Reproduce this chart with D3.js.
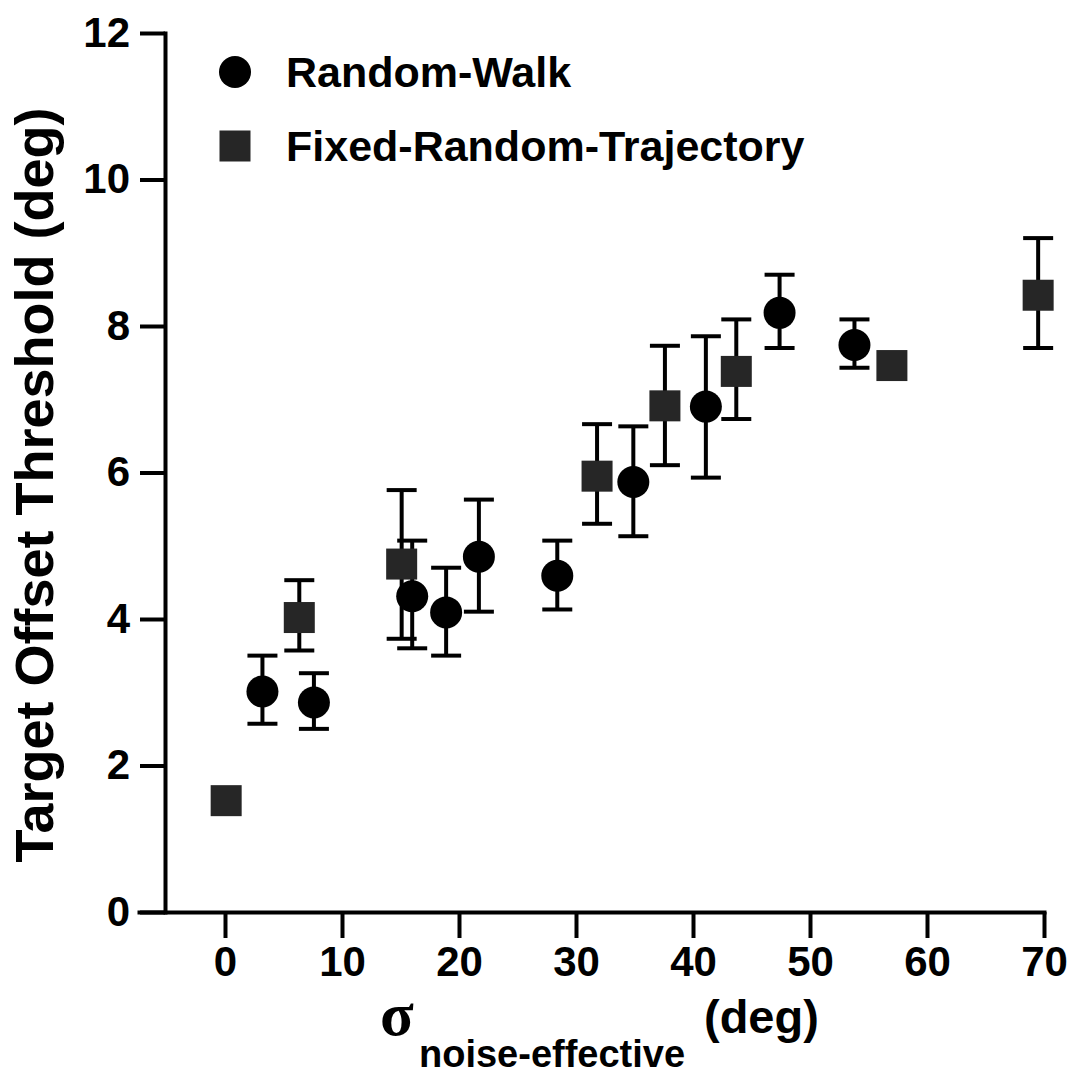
<!DOCTYPE html>
<html>
<head>
<meta charset="utf-8">
<script src="https://cdn.jsdelivr.net/npm/d3@7"></script>
<style>
  html, body { margin: 0; padding: 0; background: #fff; }
  svg { display: block; }
  text { font-family: Arial, "Liberation Sans", Helvetica, sans-serif; font-weight: bold; fill: #000; }
</style>
</head>
<body>
<svg id="chart" width="1073" height="1074"></svg>
<script>
// ---- Data ----
const seriesNames = ["Random-Walk", "Fixed-Random-Trajectory"];

const rwX  = [3.2, 7.6, 16.0, 18.9, 21.7, 28.4, 34.9, 41.1, 47.4, 53.8];
const rwY  = [3.01, 2.86, 4.31, 4.09, 4.85, 4.59, 5.87, 6.90, 8.18, 7.74];
const rwLo = [2.57, 2.50, 3.60, 3.50, 4.10, 4.13, 5.13, 5.93, 7.70, 7.43];
const rwHi = [3.50, 3.26, 5.07, 4.70, 5.63, 5.07, 6.63, 7.86, 8.70, 8.09];

const frtX  = [0.1, 6.35, 15.1, 31.8, 37.6, 43.7, 57.0, 69.5];
const frtY  = [1.52, 4.02, 4.75, 5.95, 6.91, 7.38, 7.46, 8.42];
const frtLo = [1.52, 3.57, 3.73, 5.30, 6.10, 6.73, 7.46, 7.70];
const frtHi = [1.52, 4.53, 5.76, 6.66, 7.73, 8.09, 7.46, 9.20];

const xTicks = [0, 10, 20, 30, 40, 50, 60, 70];
const yTicks = [0, 2, 4, 6, 8, 10, 12];

// ---- Layout ----
const svg = d3.select("#chart");
const yAxisX = 165;
const x = d3.scaleLinear().domain([-7.35, 70]).range([139, 1044]);
const y = d3.scaleLinear().domain([0, 12]).range([912, 33]);

const SW = 4;

// Y axis
const gy = svg.append("g").attr("transform", `translate(${yAxisX},0)`)
  .call(d3.axisLeft(y).tickValues(yTicks).tickSize(25).tickSizeOuter(0).tickPadding(10).tickFormat(d3.format("d")));
gy.selectAll("path, line").attr("stroke", "#000").attr("stroke-width", SW);
gy.selectAll("text").style("font-size", "42px").attr("font-family", null);

// X axis
const gx = svg.append("g").attr("transform", `translate(0,${y(0)})`)
  .call(d3.axisBottom(x).tickValues(xTicks).tickSize(26).tickSizeOuter(0).tickPadding(8).tickFormat(d3.format("d")));
gx.selectAll("path, line").attr("stroke", "#000").attr("stroke-width", SW);
gx.selectAll("text").style("font-size", "42px").attr("font-family", null);
svg.selectAll(".domain").attr("stroke-linecap", "square");

// Error bars
function errBars(xs, ys, lo, hi) {
  const g = svg.append("g");
  xs.forEach((xv, i) => {
    if (hi[i] - lo[i] < 0.01) return;
    const cx = x(xv);
    g.append("line").attr("x1", cx).attr("x2", cx).attr("y1", y(lo[i])).attr("y2", y(hi[i]))
      .attr("stroke", "#000").attr("stroke-width", SW);
    [lo[i], hi[i]].forEach(v => {
      g.append("line").attr("x1", cx - 15).attr("x2", cx + 15).attr("y1", y(v)).attr("y2", y(v))
        .attr("stroke", "#000").attr("stroke-width", SW);
    });
  });
}
errBars(frtX, frtY, frtLo, frtHi);
errBars(rwX, rwY, rwLo, rwHi);

// Markers
const sq = 31;
svg.append("g").selectAll("rect").data(frtX).join("rect")
  .attr("x", (d) => x(d) - sq / 2)
  .attr("y", (d, i) => y(frtY[i]) - sq / 2)
  .attr("width", sq).attr("height", sq)
  .attr("fill", "#262626");

svg.append("g").selectAll("circle").data(rwX).join("circle")
  .attr("cx", d => x(d))
  .attr("cy", (d, i) => y(rwY[i]))
  .attr("r", 16)
  .attr("fill", "#000");

// Legend
const leg = svg.append("g");
leg.append("circle").attr("cx", 235).attr("cy", 72).attr("r", 16).attr("fill", "#000");
leg.append("rect").attr("x", 235 - sq / 2).attr("y", 146 - sq / 2).attr("width", sq).attr("height", sq).attr("fill", "#262626");
leg.append("text").attr("x", 286).attr("y", 72).attr("dy", "0.36em").style("font-size", "43px").text(seriesNames[0]);
leg.append("text").attr("x", 286).attr("y", 146).attr("dy", "0.36em").style("font-size", "43px").text(seriesNames[1]);

// Y title
svg.append("text")
  .attr("transform", `translate(53,485) rotate(-90)`)
  .attr("text-anchor", "middle")
  .style("font-size", "54px")
  .text("Target Offset Threshold (deg)");

// X title
svg.append("text").attr("x", 380).attr("y", 1035)
  .style("font-family", "'Liberation Serif', 'DejaVu Serif', serif")
  .style("font-size", "62px").text("σ");
svg.append("text").attr("x", 419).attr("y", 1067)
  .style("font-size", "38px").text("noise-effective");
svg.append("text").attr("x", 704).attr("y", 1033)
  .style("font-size", "47px").text("(deg)");
</script>
</body>
</html>
